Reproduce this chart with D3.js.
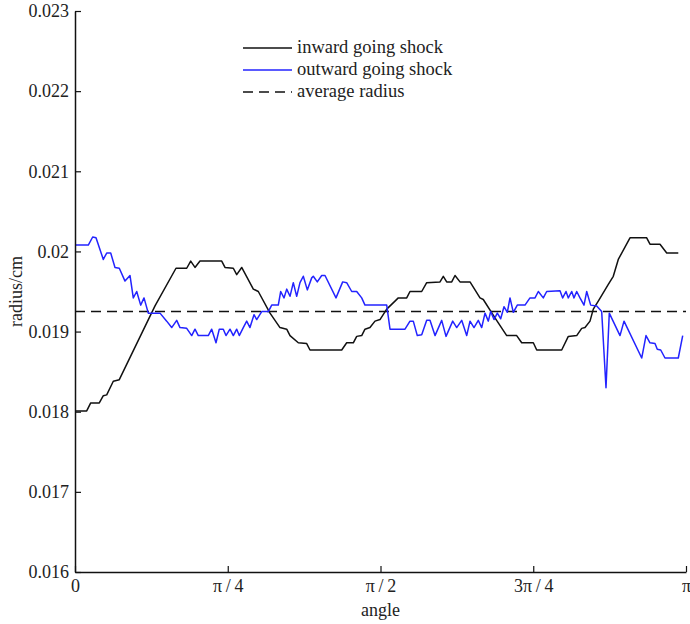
<!DOCTYPE html>
<html>
<head>
<meta charset="utf-8">
<script src="https://cdn.jsdelivr.net/npm/d3@7"></script>
<style>
html,body{margin:0;padding:0;background:#fff;}
svg{display:block;}
text{font-family:"Liberation Serif","Times New Roman",serif;fill:#222;}
</style>
</head>
<body>
<svg id="chart" width="690" height="624"></svg>
<script>
// angle in degrees (0..180 == 0..pi), radius in cm
const inwardAngle = [0,3.45,4.63,7.16,8.34,9.34,11.28,13.05,23.57,29.75,32.91,34.09,35.35,36.82,43.22,44.19,46.64,47.64,49.11,52.53,54.0,57.45,60.39,62.37,63.34,65.78,68.26,69.23,78.57,80.04,81.99,82.99,84.46,85.43,86.9,88.38,89.85,91.83,94.27,95.24,97.72,98.69,102.14,103.61,107.53,108.5,109.5,110.98,111.95,113.42,116.37,119.31,120.28,123.73,127.18,130.12,131.6,135.02,136.02,143.38,145.33,147.8,149.27,150.25,151.72,152.69,154.16,157.11,158.58,160.05,163.5,168.42,169.39,172.34,174.32,177.73];
const inwardRadius = [0.01801,0.01801,0.01811,0.01811,0.0182,0.01821,0.01838,0.0184,0.01932,0.01979,0.01979,0.01988,0.0198,0.01988,0.01988,0.0198,0.01979,0.01971,0.0198,0.01953,0.0195,0.01923,0.01905,0.01903,0.01895,0.01886,0.01885,0.01877,0.01877,0.01886,0.01886,0.01894,0.01895,0.01903,0.01905,0.01913,0.01915,0.01928,0.01938,0.01942,0.01942,0.0195,0.0195,0.01961,0.01962,0.01969,0.01962,0.01962,0.0197,0.01962,0.01962,0.01942,0.0194,0.01917,0.01895,0.01895,0.01886,0.01886,0.01877,0.01877,0.01894,0.01895,0.01904,0.01905,0.01913,0.01928,0.01938,0.01959,0.01969,0.0199,0.02017,0.02017,0.02009,0.02009,0.01998,0.01998];

const outwardAngle = [0,3.92,5.21,6.19,8.34,9.34,10.52,11.78,13.05,14.73,16.2,17.17,18.18,19.35,20.33,21.59,25.04,27.01,28.49,29.96,30.93,32.91,34.38,35.35,36.32,39.27,40.27,41.54,42.51,43.69,44.48,45.66,46.64,47.64,48.4,49.58,50.58,51.55,52.73,53.53,55.0,56.95,57.95,59.89,60.6,61.57,62.37,63.34,64.31,65.31,66.28,67.26,68.44,69.73,70.2,71.38,72.68,73.65,76.89,78.86,80.04,81.52,82.99,84.46,85.43,91.83,92.8,97.22,98.69,99.66,100.84,102.14,103.61,104.58,106.06,108.03,109.3,111.27,112.45,113.92,115.39,116.37,117.54,118.81,119.81,120.79,121.76,122.46,123.44,124.41,125.41,126.38,127.36,128.15,129.13,130.3,132.57,134.04,135.52,136.49,137.96,138.96,142.88,143.67,144.65,145.33,146.33,147.0,147.8,148.77,149.95,150.75,151.92,153.69,155.16,156.43,157.4,160.56,161.74,166.95,168.22,169.39,170.87,171.54,172.55,173.81,177.73,179.03];
const outwardRadius = [0.02008,0.02008,0.02018,0.02017,0.0199,0.01998,0.01998,0.0198,0.01979,0.01963,0.0197,0.01942,0.0195,0.01933,0.01942,0.01923,0.01923,0.01913,0.01905,0.01914,0.01905,0.01904,0.01895,0.01903,0.01895,0.01895,0.01903,0.01886,0.01903,0.01903,0.01895,0.01903,0.01895,0.01903,0.01895,0.01905,0.01913,0.01905,0.01921,0.01915,0.01925,0.01925,0.01933,0.01933,0.0195,0.01942,0.01953,0.01944,0.01961,0.01944,0.01961,0.01969,0.01952,0.01967,0.01969,0.01962,0.0197,0.0197,0.01942,0.01962,0.01961,0.0195,0.0195,0.01942,0.01933,0.01933,0.01903,0.01903,0.01913,0.01913,0.01895,0.01896,0.01914,0.01914,0.01895,0.01914,0.01894,0.01913,0.01905,0.01914,0.01895,0.01913,0.01905,0.01914,0.01905,0.01923,0.01913,0.01925,0.01915,0.01923,0.01916,0.01931,0.01924,0.01942,0.01924,0.01933,0.01933,0.01942,0.01942,0.0195,0.01942,0.0195,0.01951,0.01942,0.0195,0.01942,0.0195,0.01942,0.0195,0.01942,0.01933,0.0195,0.01933,0.01932,0.01925,0.0183,0.01923,0.01895,0.01913,0.01867,0.01895,0.01886,0.01885,0.01878,0.01877,0.01867,0.01867,0.01895];

const averageRadius = 0.01925;

const xTickValues = [0,45,90,135,180];
const xTickLabels = ["0","\u03c0\u2009/\u20094","\u03c0\u2009/\u20092","3\u03c0\u2009/\u20094","\u03c0"];
const yTickValues = [0.016,0.017,0.018,0.019,0.02,0.021,0.022,0.023];
const yTickLabels = ["0.016","0.017","0.018","0.019","0.02","0.021","0.022","0.023"];

const seriesNames = ["inward going shock","outward going shock","average radius"];
const seriesColors = ["#111","#2323ff","#111"];

const svg = d3.select("#chart");
const m = {left:75, right:4, top:11, bottom:52};
const W = 690, H = 624;
const x = d3.scaleLinear().domain([0,180]).range([m.left, W-m.right]);
const y = d3.scaleLinear().domain([0.016,0.023]).range([H-m.bottom, m.top]);

const line = d3.line().x(d=>x(d[0])).y(d=>y(d[1]));

// average
svg.append("path")
  .datum([[0,averageRadius],[180,averageRadius]])
  .attr("d", line).attr("fill","none")
  .attr("stroke", seriesColors[2]).attr("stroke-width",1.6)
  .attr("stroke-dasharray","10,6");

svg.append("path")
  .datum(d3.zip(inwardAngle, inwardRadius))
  .attr("d", line).attr("fill","none")
  .attr("stroke", seriesColors[0]).attr("stroke-width",1.5)
  .attr("stroke-linejoin","round");

svg.append("path")
  .datum(d3.zip(outwardAngle, outwardRadius))
  .attr("d", line).attr("fill","none")
  .attr("stroke", seriesColors[1]).attr("stroke-width",1.5)
  .attr("stroke-linejoin","round");

// axes
const xAxis = d3.axisBottom(x).tickValues(xTickValues)
  .tickFormat((d,i)=>xTickLabels[i]).tickSizeInner(-6).tickSizeOuter(0).tickPadding(7);
const gx = svg.append("g").attr("transform",`translate(0,${H-m.bottom})`).call(xAxis);
const yAxis = d3.axisLeft(y).tickValues(yTickValues)
  .tickFormat((d,i)=>yTickLabels[i]).tickSizeInner(-6).tickSizeOuter(0).tickPadding(6);
const gy = svg.append("g").attr("transform",`translate(${m.left},0)`).call(yAxis);
[gx,gy].forEach(g=>{
  g.select(".domain").attr("stroke","#111").attr("stroke-width",1.5);
  g.selectAll(".tick line").attr("stroke","#111").attr("stroke-width",1.2);
  g.selectAll(".tick text").attr("font-family","Liberation Serif").attr("font-size",18).attr("fill","#222");
});

svg.append("text").attr("x", (m.left + W - m.right)/2).attr("y", 616)
  .attr("text-anchor","middle").attr("font-size",18).text("angle");
svg.append("text")
  .attr("transform",`translate(22,${(m.top + H - m.bottom)/2}) rotate(-90)`)
  .attr("text-anchor","middle").attr("font-size",18).text("radius/cm");

// legend
const lg = svg.append("g");
seriesNames.forEach((name,i)=>{
  const yy = 48 + i*22;
  lg.append("line").attr("x1",243).attr("x2",292).attr("y1",yy).attr("y2",yy)
    .attr("stroke",seriesColors[i]).attr("stroke-width",1.5)
    .attr("stroke-dasharray", i===2 ? "10,6" : null);
  lg.append("text").attr("x",297).attr("y",yy+5).attr("font-size",18.5).text(name);
});
</script>
</body>
</html>
